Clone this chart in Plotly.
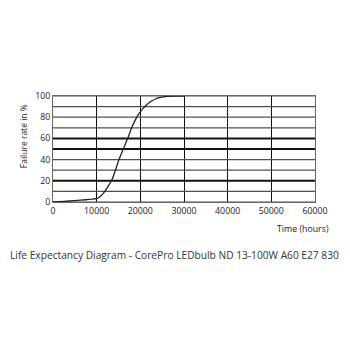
import plotly.graph_objects as go

# Failure curve (hours vs. cumulative failure rate in %)
hours = [0, 2500, 5000, 7500, 9000, 10000, 10500, 11000, 11700, 12500, 13500, 14300, 15000,
         15600, 16200, 16800, 17300, 18000, 18800, 19400, 20000, 20700, 21400,
         22000, 22700, 23500, 24300, 25200, 26200, 27500, 30000]
failure = [0, 0.6, 1.3, 2.1, 2.7, 3.3, 4.2, 5.8, 9, 14, 21, 30, 39,
           45, 51, 57, 62, 70, 77, 81.5, 85, 88.5, 91.5,
           93.6, 95.5, 97.2, 98.4, 99.2, 99.7, 100, 100]

x_ticks = [0, 10000, 20000, 30000, 40000, 50000, 60000]
y_grid = [0, 10, 20, 30, 40, 50, 60, 70, 80, 90, 100]
y_labels = ["0", "", "20", "", "40", "", "60", "", "80", "", "100"]
bold_levels = [20, 50, 60]

fig = go.Figure()
fig.add_trace(go.Scatter(x=hours, y=failure, mode="lines",
                         line=dict(color="#222222", width=1.3, shape="spline", smoothing=0.3),
                         hoverinfo="skip", showlegend=False))

# horizontal rules: thin grey every 10 %, heavier at selected levels
for lvl in y_grid:
    heavy = lvl in bold_levels
    fig.add_shape(type="line", xref="x", yref="y", x0=x_ticks[0], x1=x_ticks[-1],
                  y0=lvl, y1=lvl, layer="between",
                  line=dict(color="#111111" if heavy else "#505050", width=2 if heavy else 1.2))

font = "Open Sans, Noto Sans, sans-serif"
fig.update_layout(
    width=350, height=350,
    margin=dict(l=53, r=35, t=96, b=148),
    paper_bgcolor="white", plot_bgcolor="white",
    font=dict(family=font, size=8.8, color="#222222"),
    xaxis=dict(range=[0, 60000], tickmode="array", tickvals=x_ticks,
               ticktext=[str(v) for v in x_ticks],
               showgrid=True, gridcolor="#111111", gridwidth=1.3,
               zeroline=False, showline=True, linecolor="#666666", linewidth=1, mirror=True,
               ticks="", tickfont=dict(size=8.8)),
    yaxis=dict(range=[0, 100], tickmode="array", tickvals=y_grid, ticktext=y_labels,
               showgrid=False,
               zeroline=False, showline=True, linecolor="#666666", linewidth=1, mirror=True,
               ticks="", tickfont=dict(size=8.8)),
    annotations=[
        dict(text="Failure rate in %", xref="paper", yref="paper", x=-0.115, y=0.62,
             textangle=-90, showarrow=False, font=dict(size=8.5), xanchor="center", yanchor="middle"),
        dict(text="Time (hours)", xref="paper", yref="paper", x=1.06, y=-0.25,
             showarrow=False, font=dict(size=8.8), xanchor="right", yanchor="middle"),
        dict(text="Life Expectancy Diagram - CorePro LEDbulb ND 13-100W A60 E27 830",
             xref="paper", yref="paper", x=0.465, y=-0.5, showarrow=False,
             font=dict(size=10.2, color="#333333"), xanchor="center", yanchor="middle"),
    ],
)

fig.write_html("out.html")
